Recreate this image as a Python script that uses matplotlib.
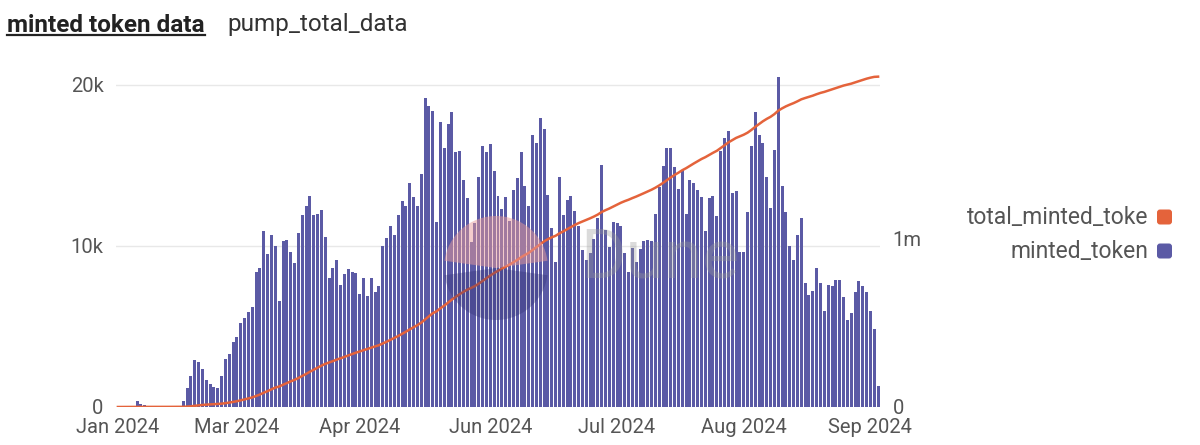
import numpy as np
import matplotlib
matplotlib.use("Agg")
import matplotlib.pyplot as plt
from matplotlib.patches import FancyBboxPatch, Wedge
from matplotlib.lines import Line2D

plt.rcParams['font.family'] = ['Roboto', 'DejaVu Sans']

# daily minted tokens
minted_token = [
    0, 0, 0, 0, 0, 400, 200, 100, 0, 0, 0, 0, 0, 0, 0, 0, 0,
    400, 1200, 1900, 2900, 2800, 2350, 1700, 1400, 1250, 1200,
    1900, 3000, 3300, 4050, 4350, 5200, 5500, 5900, 6200, 8400,
    8600, 10900, 9500, 10700, 10000, 6600, 10300, 10350, 9600, 8950,
    10800, 11900, 12450, 13100, 11900, 11950, 12200, 10550, 8000, 8650,
    9150, 7550, 8250, 8550, 8400, 8300, 7000, 8000, 6900,
    8000, 7150, 7500, 10000, 10500, 11250, 10650, 11900, 12800, 12500,
    13900, 13000, 12500, 14450, 19150, 18700, 18350, 11450, 17700, 16100,
    17550, 18300, 15850, 15900, 14100, 12950, 10250, 11400, 14300, 16200,
    15800, 16300, 14650,
    13100, 12300, 13000, 11550, 13450, 14200, 15800, 13700, 12450, 16850,
    16350, 17950, 17250, 13150, 11100, 9000, 14300, 11900, 12850, 13100,
    12150, 11200, 9750, 9150, 9550, 10450, 11750, 15000, 11000, 9900,
    11500, 11400, 11200,
    9550, 8400, 9850, 9000, 9800, 10300, 10350, 10300, 12000, 13650,
    14950, 16050, 16100, 14900, 13500, 14700, 12000, 14100, 13900, 13450,
    13000, 10900, 12950, 13100, 11850, 15900, 16700, 17100, 13250, 13400,
    9600, 9600, 12100, 16200, 18300, 16900, 16350, 14250, 12350, 15950,
    20450, 13700, 12100, 10000, 9150, 10700, 11750, 7700, 6950, 7200,
    8600, 7700, 5950, 7600, 7500, 7850, 7850, 6800, 5400, 5850,
    7150, 7800, 7500, 7150, 5950, 4850, 1300,
]
# running total of the daily counts
total_minted_token = np.cumsum(minted_token)

x_labels = ['Jan 2024', 'Mar 2024', 'Apr 2024', 'Jun 2024', 'Jul 2024', 'Aug 2024', 'Sep 2024']
x_label_idx = [0, 31, 63, 97, 130, 163, 196]
left_ticks = [0, 10000, 20000]
left_labels = ['0', '10k', '20k']
right_ticks = [0, 1000000]
right_labels = ['0', '1m']

bar_color = '#5b5aa5'
line_color = '#e4633b'
text_color = '#555555'

fig = plt.figure(figsize=(12, 4.45), dpi=100)
ax = fig.add_axes([116 / 1200, 38 / 445, 764 / 1200, 332 / 445])

x = np.arange(len(minted_token))
ax.bar(x, minted_token, width=0.78, color=bar_color, zorder=2)
ax.set_xlim(-0.5, len(minted_token) - 0.5)
ax.set_ylim(0, 20600)
ax.set_yticks(left_ticks)
ax.set_yticklabels(left_labels)
ax.set_xticks(x_label_idx)
ax.set_xticklabels(x_labels)
ax.yaxis.grid(True, color='#e8e8e8', lw=1)
ax.set_axisbelow(True)
ax.tick_params(axis='y', length=0, labelsize=14.5, colors=text_color, pad=9)
ax.tick_params(axis='x', length=0, labelsize=14.5, colors=text_color, pad=8)
for s in ax.spines.values():
    s.set_visible(False)

ax2 = ax.twinx()
ax2.plot(x, total_minted_token, color=line_color, lw=1.8, zorder=3)
ax2.set_ylim(0, total_minted_token[-1] * 1.005)
ax2.set_yticks(right_ticks)
ax2.set_yticklabels(right_labels)
ax2.tick_params(axis='y', length=0, labelsize=14.5, colors=text_color, pad=9)
for s in ax2.spines.values():
    s.set_visible(False)

# title tabs
t1 = fig.text(7 / 1200, 1 - 31.5 / 445, 'minted token data', fontsize=17.5,
              fontweight='bold', color='#222222', va='baseline')
fig.text(227 / 1200, 1 - 31.5 / 445, 'pump_total_data', fontsize=17.5,
         color='#333333', va='baseline')
fig.canvas.draw()
bb = t1.get_window_extent()
fig.add_artist(Line2D([bb.x0 / 1200, bb.x1 / 1200], [1 - 34.5 / 445] * 2,
                      transform=fig.transFigure, color='#222222', lw=1.6))

# legend
legend_items = [('total_minted_toke', line_color, 217), ('minted_token', bar_color, 251)]
for label, col, yc in legend_items:
    fig.text(1148 / 1200, 1 - yc / 445, label, fontsize=16.5, color=text_color,
             ha='right', va='center')
    fig.add_artist(FancyBboxPatch((11.57, (445 - yc - 7.5) / 100), 0.15, 0.15,
                                  boxstyle='round,pad=0,rounding_size=0.03',
                                  transform=fig.dpi_scale_trans, color=col, lw=0))

# Dune watermark
cx, cy, r = 4.96, 1.85, 0.52
fig.add_artist(Wedge((cx, cy - 0.08), r, 8, 172, transform=fig.dpi_scale_trans,
                     color='#e89a9a', alpha=0.5, lw=0, zorder=4))
fig.add_artist(Wedge((cx, cy - 0.08), r, 188, 352, transform=fig.dpi_scale_trans,
                     color='#2a2a6e', alpha=0.3, lw=0, zorder=4))
fig.text(580 / 1200, 1 - 258 / 445, 'Dune', fontsize=50, color='#9a9a9a',
         alpha=0.35, va='center', ha='left', zorder=4)

fig.savefig('out.png', dpi=100)
